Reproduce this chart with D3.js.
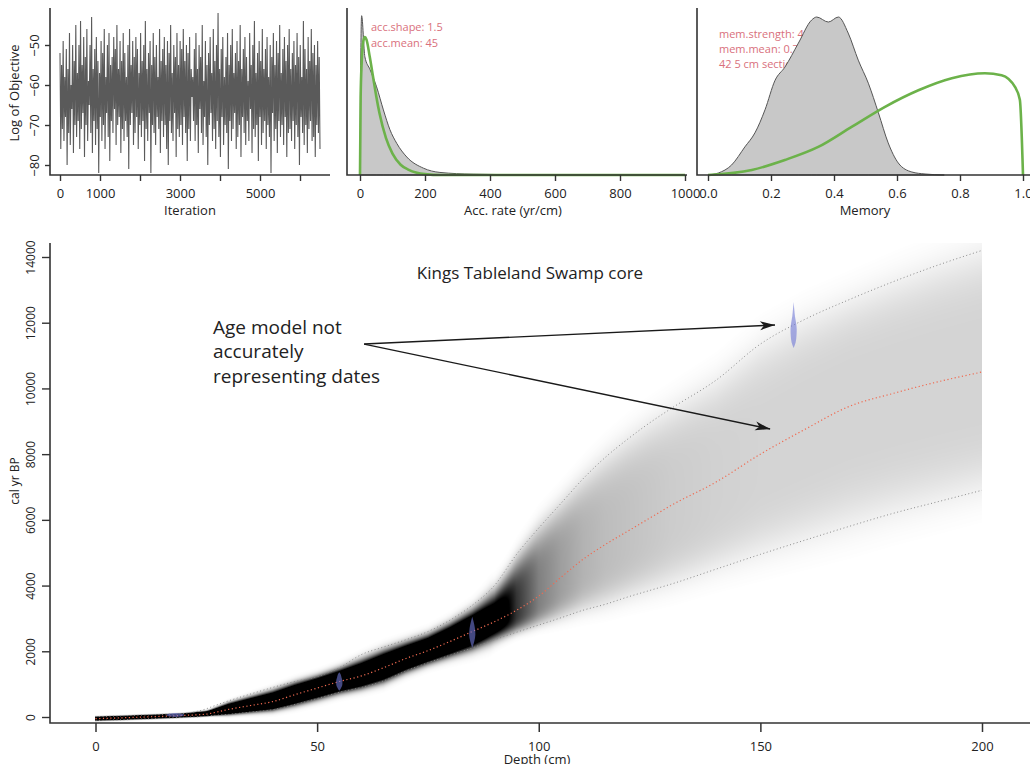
<!DOCTYPE html>
<html>
<head>
<meta charset="utf-8">
<script src="https://cdn.jsdelivr.net/npm/d3@7"></script>
<style>
body { margin: 0; background: #fff; }
text { font-family: "Open Sans", sans-serif; }
</style>
</head>
<body>
<script>
// MCMC trace (log of objective), thinned
var trace = [-52,-76,-55,-71,-49,-74,-58,-68,-51,-80,-56,-72,-47,-75,-60,-66,-50,-77,-54,-70,-45,-73,-57,-69,-50,-76,-44,-71,-55,-67,-48,-78,-53,-70,-46,-74,-59,-65,-50,-72,-43,-77,-56,-69,-51,-75,-48,-71,-54,-82,-57,-68,-49,-74,-52,-70,-46,-76,-58,-67,-50,-73,-47,-79,-55,-69,-53,-72,-48,-66,-51,-75,-45,-70,-56,-68,-49,-77,-54,-71,-47,-74,-52,-69,-58,-73,-50,-81,-46,-70,-55,-67,-49,-75,-53,-72,-48,-68,-51,-76,-57,-70,-47,-73,-54,-69,-50,-79,-44,-71,-56,-74,-52,-67,-49,-82,-55,-70,-47,-72,-53,-75,-50,-68,-58,-71,-46,-77,-54,-69,-51,-73,-48,-70,-55,-76,-49,-80,-52,-69,-45,-72,-57,-74,-50,-67,-53,-78,-47,-71,-55,-73,-49,-70,-51,-75,-46,-68,-54,-72,-50,-79,-52,-71,-48,-74,-56,-63,
  -58,-69,-51,-74,-47,-70,-56,-77,-50,-66,-53,-72,-45,-75,-59,-68,-49,-73,-55,-80,-52,-70,-48,-67,-57,-74,-46,-71,-54,-76,-50,-69,-42,-73,-56,-78,-51,-68,-48,-75,-58,-70,-53,-72,-47,-81,-55,-69,-50,-74,-46,-71,-57,-67,-52,-76,-49,-73,-54,-70,-45,-78,-56,-68,-51,-72,-48,-75,-53,-69,-59,-74,-47,-66,-55,-77,-50,-71,-44,-73,-57,-70,-52,-79,-49,-68,-54,-75,-46,-72,-56,-69,-51,-76,-48,-70,-58,-73,-50,-82,-53,-67,-47,-74,-55,-71,-49,-77,-52,-69,-45,-73,-57,-70,-51,-75,-48,-68,-54,-78,-50,-72,-46,-71,-56,-74,-52,-69,-49,-76,-55,-70,-47,-73,-53,-80,-50,-68,-58,-72,-44,-75,-51,-70,-56,-77,-48,-71,-54,-69,-46,-74,-52,-73,-50,-78,-55,-70,-49,-72,-53,-76];
var traceLast = 6500;
var iterTicks = [0,1000,2000,3000,4000,5000,6000];
var iterLabels = [0,1000,3000,5000];
var objTicks = [-80,-70,-60,-50];

// accumulation rate: posterior (grey) and gamma prior (green)
var accRate = [0,2,5,15,31,51,72,92,113,144,195,246,348,600,1000];
var accPost = [0,0.0120,0.0186,0.0138,0.0123,0.0103,0.0076,0.0053,0.0037,0.0021,0.0008,0.0003,0.0001,0,0];
var accPriorRate = [0,2,5,10,15,20,30,40,50,60,80,100,125,150,200,250,300,1000];
var accPrior = [0,0.0091,0.0130,0.0156,0.0161,0.0158,0.0138,0.0115,0.0092,0.0072,0.0043,0.0025,0.0012,0.0006,0.0001,0,0,0];
var accTicks = [0,200,400,600,800,1000];
var accNotes = ["acc.shape: 1.5", "acc.mean: 45"];

// memory: posterior (grey) and beta prior (green)
var memVal = [0,0.033,0.075,0.117,0.149,0.181,0.213,0.244,0.287,0.329,0.345,0.382,0.414,0.445,0.477,0.509,0.541,0.572,0.604,0.647,0.689,0.75];
var memPost = [0,0.04,0.2,0.56,0.84,1.30,1.89,2.15,2.63,3.09,3.15,3.05,3.15,2.83,2.29,1.83,1.24,0.64,0.24,0.06,0.02,0];
var memPriorVal = [0,0.139,0.244,0.35,0.456,0.562,0.668,0.774,0.879,0.932,0.975,0.99,1.0];
var memPrior = [0,0.1,0.30,0.56,0.96,1.36,1.69,1.93,2.03,1.99,1.75,1.50,0];
var memTicks = [0,0.2,0.4,0.6,0.8,1.0];
var memNotes = ["mem.strength: 4", "mem.mean: 0.7", "42 5 cm sections"];

// age-depth model
var depths  = [0,5,10,15,20,25,26,30,35,40,45,50,55,60,65,70,75,80,85,90,95,100,105,110,115,120,125,130,140,150,160,170,180,190,200];
var ageMean = [-50,-30,-5,20,50,85,110,230,350,470,680,880,1080,1250,1500,1780,2020,2300,2600,2900,3250,3680,4250,4800,5250,5650,6050,6450,7150,8000,8750,9450,9850,10200,10500];
var ageLo   = [-110,-90,-65,-40,-10,25,40,80,150,220,380,560,750,900,1100,1400,1650,1880,2100,2350,2580,2800,3020,3250,3430,3650,3850,4050,4500,4950,5380,5800,6200,6550,6900];
var ageHi   = [10,30,55,80,110,250,300,490,700,900,1080,1230,1500,1900,2130,2350,2600,2950,3400,4000,4950,5750,6500,7250,7900,8450,8950,9400,10250,11350,12100,12700,13250,13750,14200];
var shade   = [2.2,2.2,2.2,2.2,2.2,2.2,2.2,2.2,2.2,2.2,2.2,2.2,2.2,2.2,2.2,2.2,2.2,2.2,2.0,1.4,0.8,0.5,0.38,0.3,0.26,0.24,0.22,0.2,0.18,0.17,0.17,0.17,0.17,0.17,0.17];
var depthTicks = [0,50,100,150,200];
var ageTicks = [0,2000,4000,6000,8000,10000,12000,14000];

// calibrated dates
var dates = [
  { depth: 18,    ages: [0,30,60,90,120],                                  prob: [0,1.7,2.0,1.7,0] },
  { depth: 55,    ages: [800,900,1000,1100,1200,1300,1360],                prob: [0,0.45,0.7,0.7,0.5,0.3,0] },
  { depth: 85,    ages: [2100,2300,2500,2700,2900,3050],                   prob: [0,0.45,0.7,0.6,0.3,0] },
  { depth: 157.5, ages: [11230,11400,11600,11800,12000,12200,12400,12630], prob: [0,0.45,0.65,0.7,0.55,0.3,0.15,0] }
];

var title = "Kings Tableland Swamp core";
var noteLines = ["Age model not", "accurately", "representing dates"];
var noteAt = { depth: 26.5, age: 11840 };
var arrowFrom = { depth: 60.6, age: 11350 };
var arrowTo = [ { depth: 153.3, age: 11930 }, { depth: 152.2, age: 8765 } ];

var svg = d3.select("body").append("svg").attr("width", 1030).attr("height", 764);

function frame(x0, x1, y0, y1) {
  svg.append("path").attr("d", "M" + x0 + "," + y0 + "V" + y1 + "H" + x1)
    .attr("fill", "none").attr("stroke", "#333").attr("stroke-width", 1.6);
}
function bottomAxis(scale, y, ticks, fmt, size, pad, fs) {
  var g = svg.append("g").attr("transform", "translate(0," + y + ")")
    .call(d3.axisBottom(scale).tickValues(ticks).tickSize(size).tickPadding(pad).tickFormat(fmt));
  g.select(".domain").remove();
  g.selectAll("line").attr("stroke", "#333").attr("stroke-width", 1.4);
  g.selectAll("text").style("font-size", fs + "px").attr("fill", "#222");
  return g;
}
function leftAxis(scale, x, ticks, size, off, fs) {
  var g = svg.append("g").attr("transform", "translate(" + x + ",0)")
    .call(d3.axisLeft(scale).tickValues(ticks).tickSize(size).tickFormat(d3.format("d")));
  g.select(".domain").remove();
  g.selectAll("line").attr("stroke", "#333").attr("stroke-width", 1.4);
  g.selectAll("text").attr("x", null).attr("dy", null).attr("text-anchor", "middle")
    .attr("transform", "translate(" + (-off) + ",0) rotate(-90)")
    .style("font-size", fs + "px").attr("fill", "#222");
  return g;
}
function vlabel(txt, x, y, fs) {
  svg.append("text").attr("transform", "translate(" + x + "," + y + ") rotate(-90)")
    .attr("text-anchor", "middle").style("font-size", fs + "px").attr("fill", "#222").text(txt);
}
function hlabel(txt, x, y, fs) {
  svg.append("text").attr("x", x).attr("y", y).attr("text-anchor", "middle")
    .style("font-size", fs + "px").attr("fill", "#222").text(txt);
}

// ---------- panel 1: trace ----------
var xIt = d3.scaleLinear().domain([0, 6000]).range([60, 300]);
var yObj = d3.scaleLinear().domain([-80, -50]).range([165, 45]);
svg.append("path").datum(trace)
  .attr("d", d3.line().x(function(d, i) { return xIt(i * traceLast / (trace.length - 1)); }).y(function(d) { return yObj(d); }))
  .attr("fill", "none").attr("stroke", "#5a5a5a").attr("stroke-width", 1.1);
frame(50, 330, 8, 175);
bottomAxis(xIt, 175, iterTicks, function(d) { return iterLabels.indexOf(d) >= 0 ? d : ""; }, 6, 8, 13);
leftAxis(yObj, 50, objTicks, 5, 11, 13);
hlabel("Iteration", 190, 215, 13);
vlabel("Log of Objective", 19, 93, 13);

// ---------- panel 2: acc rate ----------
var xAcc = d3.scaleLinear().domain([0, 1000]).range([360, 685]);
var yAcc = d3.scaleLinear().domain([0, 0.0195]).range([175, 8]);
svg.selectAll(".accnote").data(accNotes).enter().append("text")
  .attr("x", 371).attr("y", function(d, i) { return 31 + i * 16; })
  .style("font-size", "11px").attr("fill", "#d9707c").text(function(d) { return d; });
svg.append("path").datum(accRate)
  .attr("d", d3.area().curve(d3.curveMonotoneX).x(function(d) { return xAcc(d); })
    .y0(yAcc(0)).y1(function(d, i) { return yAcc(accPost[i]); }))
  .attr("fill", "#c8c8c8").attr("stroke", "#555").attr("stroke-width", 1);
svg.append("path").datum(accPriorRate)
  .attr("d", d3.line().curve(d3.curveMonotoneX).x(function(d) { return xAcc(d); }).y(function(d, i) { return yAcc(accPrior[i]); }))
  .attr("fill", "none").attr("stroke", "#6cb24a").attr("stroke-width", 2.6);
frame(347, 687, 8, 175);
bottomAxis(xAcc, 175, accTicks, d3.format("d"), 6, 8, 13);
hlabel("Acc. rate (yr/cm)", 513, 215, 13);

// ---------- panel 3: memory ----------
var xMem = d3.scaleLinear().domain([0, 1]).range([708, 1023]);
var yMem = d3.scaleLinear().domain([0, 3.33]).range([175, 8]);
svg.selectAll(".memnote").data(memNotes).enter().append("text")
  .attr("x", 719).attr("y", function(d, i) { return 38 + i * 15; })
  .style("font-size", "11px").attr("fill", "#d9707c").text(function(d) { return d; });
svg.append("path").datum(memVal)
  .attr("d", d3.area().curve(d3.curveMonotoneX).x(function(d) { return xMem(d); })
    .y0(yMem(0)).y1(function(d, i) { return yMem(memPost[i]); }))
  .attr("fill", "#c8c8c8").attr("stroke", "#555").attr("stroke-width", 1);
svg.append("path").datum(memPriorVal)
  .attr("d", d3.line().curve(d3.curveMonotoneX).x(function(d) { return xMem(d); }).y(function(d, i) { return yMem(memPrior[i]); }))
  .attr("fill", "none").attr("stroke", "#6cb24a").attr("stroke-width", 2.6);
frame(697, 1030, 8, 175);
bottomAxis(xMem, 175, memTicks, d3.format(".1f"), 6, 8, 13);
hlabel("Memory", 865, 215, 13);

// ---------- main panel: age-depth model ----------
var xD = d3.scaleLinear().domain([0, 200]).range([95.5, 982]);
var yA = d3.scaleLinear().domain([0, 14000]).range([717, 257]);
var plotTop = 243, plotBot = 723;

var fM = d3.scaleLinear().domain(depths).range(ageMean);
var fL = d3.scaleLinear().domain(depths).range(ageLo);
var fH = d3.scaleLinear().domain(depths).range(ageHi);
var fS = d3.scaleLinear().domain(depths).range(shade);
// profile shape: flat-topped for the wide grey part, softer for the dark core
var sOf = d3.scaleLinear().domain([0.3, 1.5]).range([1.7, 1.45]).clamp(true);
var pOf = d3.scaleLinear().domain([0.3, 1.5]).range([5, 2.6]).clamp(true);
var skewOf = d3.scaleLinear().domain([0.5, 2]).range([1, 0.3]).clamp(true);

var sx0 = Math.floor(xD(0)), sx1 = Math.ceil(xD(200));
var cw = sx1 - sx0, ch = plotBot - plotTop;
var canvas = document.createElement("canvas");
canvas.width = cw; canvas.height = ch;
var ctx = canvas.getContext("2d");
var img = ctx.createImageData(cw, ch);
for (var i = 0; i < cw; i++) {
  var d = xD.invert(sx0 + i + 0.5);
  if (d < 0 || d > 200) continue;
  var m = fM(d), lo = fL(d), hi = fH(d), pk = fS(d), s = sOf(pk), p = pOf(pk);
  var sdLo = (m - lo) / 2;
  var sdHi = sdLo + skewOf(pk) * ((hi - m) / 2 - sdLo);
  for (var j = 0; j < ch; j++) {
    var a = yA.invert(plotTop + j + 0.5);
    var z = a < m ? (m - a) / sdLo : (a - m) / sdHi;
    var v = Math.min(1, pk * Math.exp(-0.5 * Math.pow(z / s, p)));
    if (v < 0.004) continue;
    img.data[(j * cw + i) * 4 + 3] = Math.round(v * 255);
  }
}
ctx.putImageData(img, 0, 0);
svg.append("image").attr("x", sx0).attr("y", plotTop).attr("width", cw).attr("height", ch)
  .attr("href", canvas.toDataURL());

function ageLine(arr) {
  return d3.line().curve(d3.curveMonotoneX).x(function(d) { return xD(d); }).y(function(d, i) { return yA(arr[i]); })(depths);
}
svg.append("path").attr("d", ageLine(ageLo)).attr("fill", "none").attr("stroke", "#8a8a8a").attr("stroke-width", 1).attr("stroke-dasharray", "1,2.5");
svg.append("path").attr("d", ageLine(ageHi)).attr("fill", "none").attr("stroke", "#8a8a8a").attr("stroke-width", 1).attr("stroke-dasharray", "1,2.5");
svg.append("path").attr("d", ageLine(ageMean)).attr("fill", "none").attr("stroke", "#f06a50").attr("stroke-width", 1.2).attr("stroke-dasharray", "1.2,2.5");

var dateScale = 1; // cm of half-width per unit of prob
svg.selectAll(".date").data(dates).enter().append("path")
  .attr("d", function(dt) {
    return d3.area().curve(d3.curveMonotoneY)
      .y(function(a) { return yA(a); })
      .x0(function(a, i) { return xD(dt.depth - dt.prob[i] * dateScale); })
      .x1(function(a, i) { return xD(dt.depth + dt.prob[i] * dateScale); })(dt.ages);
  })
  .attr("fill", "#6f78d6").attr("fill-opacity", 0.6);

frame(50, 1030, plotTop, plotBot);
var gxm = svg.append("g").attr("transform", "translate(0," + plotBot + ")")
  .call(d3.axisBottom(xD).tickValues(depthTicks).tickSize(9).tickPadding(10));
gxm.select(".domain").remove();
gxm.selectAll("line").attr("stroke", "#333").attr("stroke-width", 1.5);
gxm.selectAll("text").style("font-size", "13px").attr("fill", "#222");
leftAxis(yA, 50, ageTicks, 8, 15, 12);
hlabel("Depth (cm)", 537, 764, 13);
vlabel("cal yr BP", 19, 481, 12);

hlabel(title, 530, 279, 17);

svg.selectAll(".note").data(noteLines).enter().append("text")
  .attr("x", xD(noteAt.depth)).attr("y", function(d, i) { return yA(noteAt.age) + 6 + i * 24.5; })
  .style("font-size", "19px").attr("fill", "#222").text(function(d) { return d; });

svg.append("defs").append("marker").attr("id", "head")
  .attr("viewBox", "-16 -6 18 12").attr("refX", 0).attr("refY", 0)
  .attr("markerWidth", 18).attr("markerHeight", 12).attr("markerUnits", "userSpaceOnUse")
  .attr("orient", "auto")
  .append("path").attr("d", "M0,0L-15,-4.5L-11,0L-15,4.5Z").attr("fill", "#1a1a1a");
svg.selectAll(".arrow").data(arrowTo).enter().append("line")
  .attr("x1", xD(arrowFrom.depth)).attr("y1", yA(arrowFrom.age))
  .attr("x2", function(d) { return xD(d.depth); }).attr("y2", function(d) { return yA(d.age); })
  .attr("stroke", "#1a1a1a").attr("stroke-width", 1.4).attr("marker-end", "url(#head)");
</script>
</body>
</html>
